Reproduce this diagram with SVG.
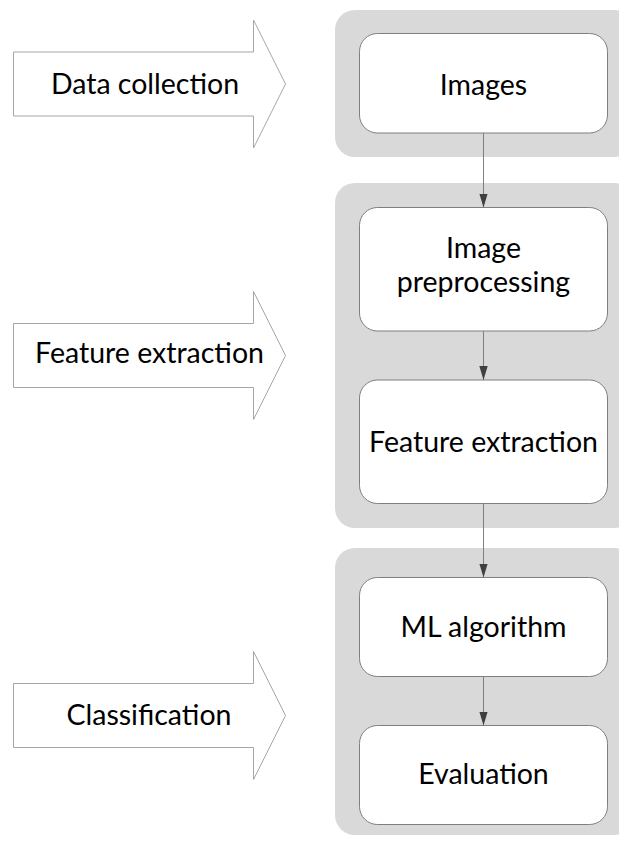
<svg xmlns="http://www.w3.org/2000/svg" width="619" height="845" viewBox="0 0 619 845">
<style>
.bg{fill:#ffffff}
.grp{fill:#d9d9d9}
.node{fill:#ffffff;stroke:#7f7f7f;stroke-width:1}
.blk{fill:#ffffff;stroke:#a6a6a6;stroke-width:1}
.lbl{font-family:Lato,"Open Sans",sans-serif;font-size:28.5px;fill:#000000;text-anchor:middle}
.conn{stroke:#7f7f7f;stroke-width:1;fill:none}
</style>
<defs>
<marker id="ah2" markerUnits="userSpaceOnUse" markerWidth="16" markerHeight="10" viewBox="0 0 16 10" refX="14" refY="5" orient="auto">
<path d="M0,0.8 L14,5 L0,9.2 Z" fill="#404040"/>
</marker>
</defs>
<rect class="bg" x="0" y="0" width="619" height="845"/>
<g id="stage-data-collection">
<path class="blk" d="M13.5,52 H253.5 V20 L285.5,84 L253.5,148 V116 H13.5 Z"/>
<text class="lbl" x="145" y="94.3">Data collection</text>
</g>
<g id="stage-feature-extraction">
<path class="blk" d="M13.5,323.5 H253.5 V291.5 L285.5,355.5 L253.5,419.5 V387.5 H13.5 Z"/>
<text class="lbl" x="149.5" y="363.3">Feature extraction</text>
</g>
<g id="stage-classification">
<path class="blk" d="M13.5,683.5 H253.5 V651.5 L285.5,715.5 L253.5,779.5 V747.5 H13.5 Z"/>
<text class="lbl" x="149" y="725">Classification</text>
</g>
<g id="group-1"><rect class="grp" x="335" y="10" width="300" height="147" rx="20"/></g>
<g id="group-2"><rect class="grp" x="335" y="183" width="300" height="345" rx="20"/></g>
<g id="group-3"><rect class="grp" x="335" y="548" width="300" height="287" rx="20"/></g>
<g id="node-images">
<rect class="node" x="359.5" y="33.5" width="248" height="99.5" rx="18"/>
<text class="lbl" x="483.5" y="95">Images</text>
</g>
<g id="node-preprocessing">
<rect class="node" x="359.5" y="207.5" width="248" height="123.5" rx="18"/>
<text class="lbl" x="483.5" y="258">Image</text>
<text class="lbl" x="483.5" y="292">preprocessing</text>
</g>
<g id="node-feature-extraction">
<rect class="node" x="359.5" y="380" width="248" height="123.5" rx="18"/>
<text class="lbl" x="483.5" y="451.5">Feature extraction</text>
</g>
<g id="node-ml">
<rect class="node" x="359.5" y="577.5" width="248" height="99" rx="18"/>
<text class="lbl" x="483.5" y="636.7">ML algorithm</text>
</g>
<g id="node-evaluation">
<rect class="node" x="359.5" y="725.5" width="248" height="99" rx="18"/>
<text class="lbl" x="483.5" y="784.3">Evaluation</text>
</g>
<g id="connectors">
<line class="conn" x1="483.5" y1="133" x2="483.5" y2="207.5" marker-end="url(#ah2)"/>
<line class="conn" x1="483.5" y1="331" x2="483.5" y2="380" marker-end="url(#ah2)"/>
<line class="conn" x1="483.5" y1="503.5" x2="483.5" y2="577.5" marker-end="url(#ah2)"/>
<line class="conn" x1="483.5" y1="676.5" x2="483.5" y2="725.5" marker-end="url(#ah2)"/>
</g>
</svg>
